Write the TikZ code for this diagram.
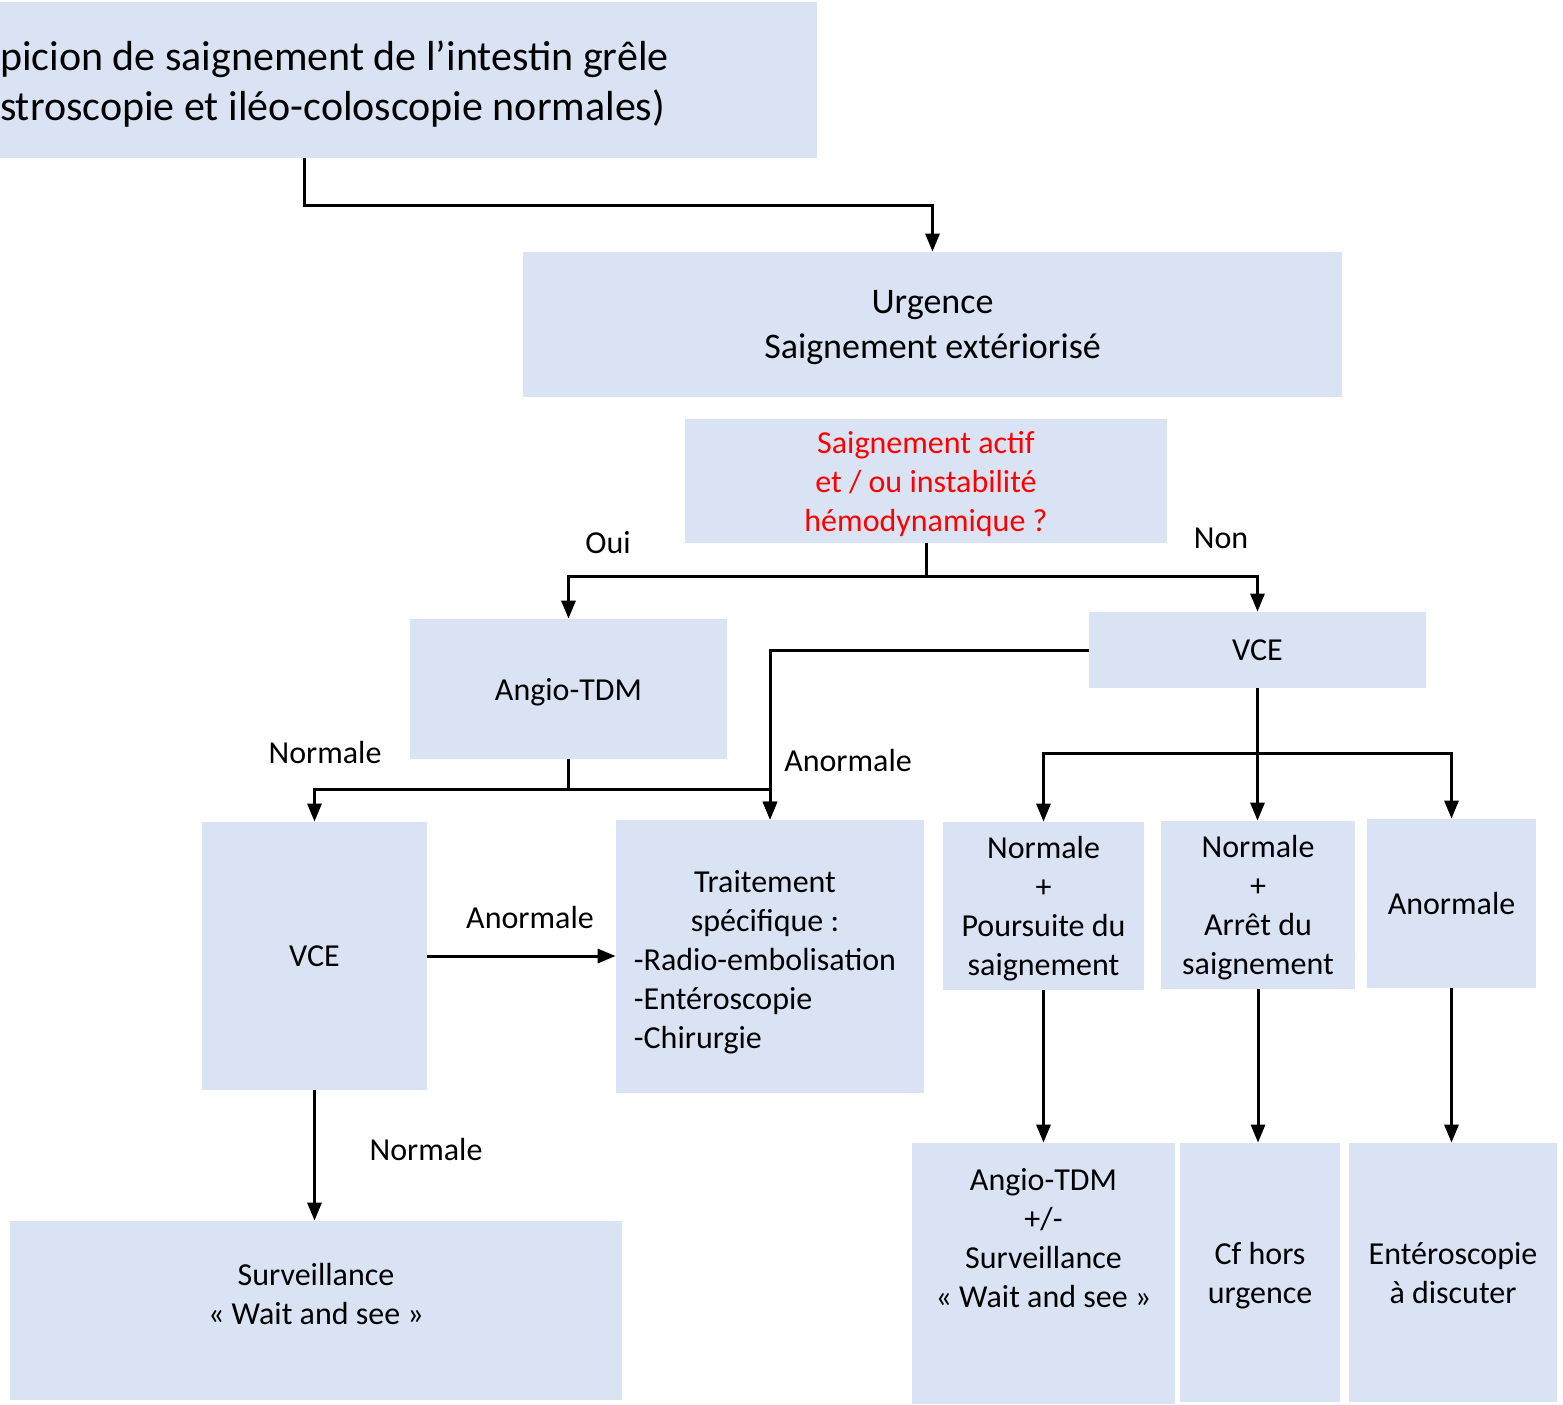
\documentclass[tikz,border=0pt]{standalone}
\usepackage{fontspec}
\setmainfont{Carlito}
\usetikzlibrary{
    arrows.meta,
    positioning,
    calc
}
\definecolor{boxblue}{HTML}{DAE3F3}
\definecolor{alertred}{HTML}{FF0000}
\tikzstyle{box} = [
    rectangle,
    fill=boxblue,
    inner sep=0pt,
    align=center,
    text depth=0pt,
    font=\fontsize{16}{19.5}\selectfont
]
\tikzstyle{lbl} = [
    inner sep=0pt,
    align=center,
    font=\fontsize{16}{19.5}\selectfont
]
\tikzstyle{arrow} = [
    -{Triangle[length=9pt,width=7pt]},
    line width=1.5pt,
    draw=black
]
\begin{document}
\begin{tikzpicture}[x=0.5pt, y=-0.5pt]
        \useasboundingbox (0,0) rectangle (1563,1404);

        % Suspicion
        \node[box, minimum width=408.5pt, minimum height=78pt, text width=408.5pt, align=flush left,
            text depth=24pt, font=\fontsize{21}{25}\selectfont] (susp) at (408.5, 80)
            {picion de saignement de l’intestin grêle\\stroscopie et iléo-coloscopie normales)};

        % Urgence
        \node[box, minimum width=409.5pt, minimum height=72.5pt,
            font=\fontsize{18}{22.5}\selectfont] (urg) at (932.5, 324.5)
            {Urgence\\Saignement extériorisé};

        % Question
        \node[box, minimum width=241pt, minimum height=62pt, text=alertred] (quest) at (926, 481)
            {Saignement actif\\et / ou instabilité\\hémodynamique ?};

        % Angio-TDM
        \node[box, minimum width=158.5pt, minimum height=70pt] (angio) at (568.5, 689) {Angio-TDM};

        % VCE (Non)
        \node[box, minimum width=168.5pt, minimum height=38pt] (vceR) at (1257.5, 650) {VCE};

        % VCE (after Angio-TDM)
        \node[box, minimum width=112.5pt, minimum height=134pt] (vceL) at (314.5, 956) {VCE};

        % Traitement specifique
        \node[box, minimum width=154pt, minimum height=136.5pt,
            label={[lbl, xshift=-2.5pt, yshift=-3pt]center:{\begin{tabular}{@{}l@{}}
                \multicolumn{1}{@{}c@{}}{Traitement}\\
                \multicolumn{1}{@{}c@{}}{spécifique :}\\
                -Radio-embolisation\\
                -Entéroscopie\\
                -Chirurgie
            \end{tabular}}}] (trt) at (770, 956.5) {};

        % VCE results
        \node[box, minimum width=100.5pt, minimum height=84pt] (poursuite) at (1043.5, 906)
            {Normale\\+\\Poursuite du\\saignement};
        \node[box, minimum width=97pt, minimum height=84pt] (arret) at (1258, 905)
            {Normale\\+\\Arrêt du\\saignement};
        \node[box, minimum width=84.5pt, minimum height=84.5pt] (anorm) at (1451.5, 903.5) {Anormale};

        % Follow-up
        \node[box, minimum width=131.5pt, minimum height=130.5pt,
            label={[lbl, yshift=17.5pt]center:{Angio-TDM\\+/-\\Surveillance\\« Wait and see »}}]
            (suivi) at (1043.5, 1273.5) {};
        \node[box, minimum width=80pt, minimum height=129.5pt] (horsurg) at (1260, 1272.5)
            {Cf hors\\urgence};
        \node[box, minimum width=104pt, minimum height=129.5pt] (entero) at (1453, 1272.5)
            {Entéroscopie\\à discuter};

        % Surveillance
        \node[box, minimum width=306pt, minimum height=89.5pt,
            label={[lbl, yshift=8.5pt]center:{Surveillance\\« Wait and see »}}]
            (surv) at (316, 1310.5) {};

        % Labels
        \node[lbl] (oui) at (608, 543) {Oui};
        \node[lbl] (non) at (1221, 538) {Non};
        \node[lbl] (normA) at (325, 752) {Normale};
        \node[lbl] (anormA) at (848, 760) {Anormale};
        \node[lbl] (anormB) at (530, 917) {Anormale};
        \node[lbl] (normB) at (426, 1149) {Normale};

        % Arrows
        \draw[arrow] ([xshift=152.5pt]susp.south west) -- ++(0,47) -| (urg.north);
        \draw[arrow] (quest.south) -- ++(0,33) -| (angio.north);
        \draw[arrow] (quest.south) -- ++(0,33) -| (vceR.north);
        \draw[arrow] (angio.south) -- ++(0,30) -| (vceL.north);
        \draw[arrow] (angio.south) -- ++(0,30) -| (trt.north);
        \draw[arrow] (vceR.west) -| (trt.north);
        \draw[arrow] (vceL.east) -- (vceL.east -| trt.west);
        \draw[arrow] (vceL.south) -- (vceL.south |- surv.north);
        \draw[arrow] (vceR.south) -- ++(0,65) -| (poursuite.north);
        \draw[arrow] (vceR.south) -- ++(0,65) -| (anorm.north);
        \draw[arrow] (vceR.south) -- (vceR.south |- arret.north);
        \draw[arrow] (poursuite.south) -- (poursuite.south |- suivi.north);
        \draw[arrow] (arret.south) -- (arret.south |- horsurg.north);
        \draw[arrow] (anorm.south) -- (anorm.south |- entero.north);
    \end{tikzpicture}
\end{document}
